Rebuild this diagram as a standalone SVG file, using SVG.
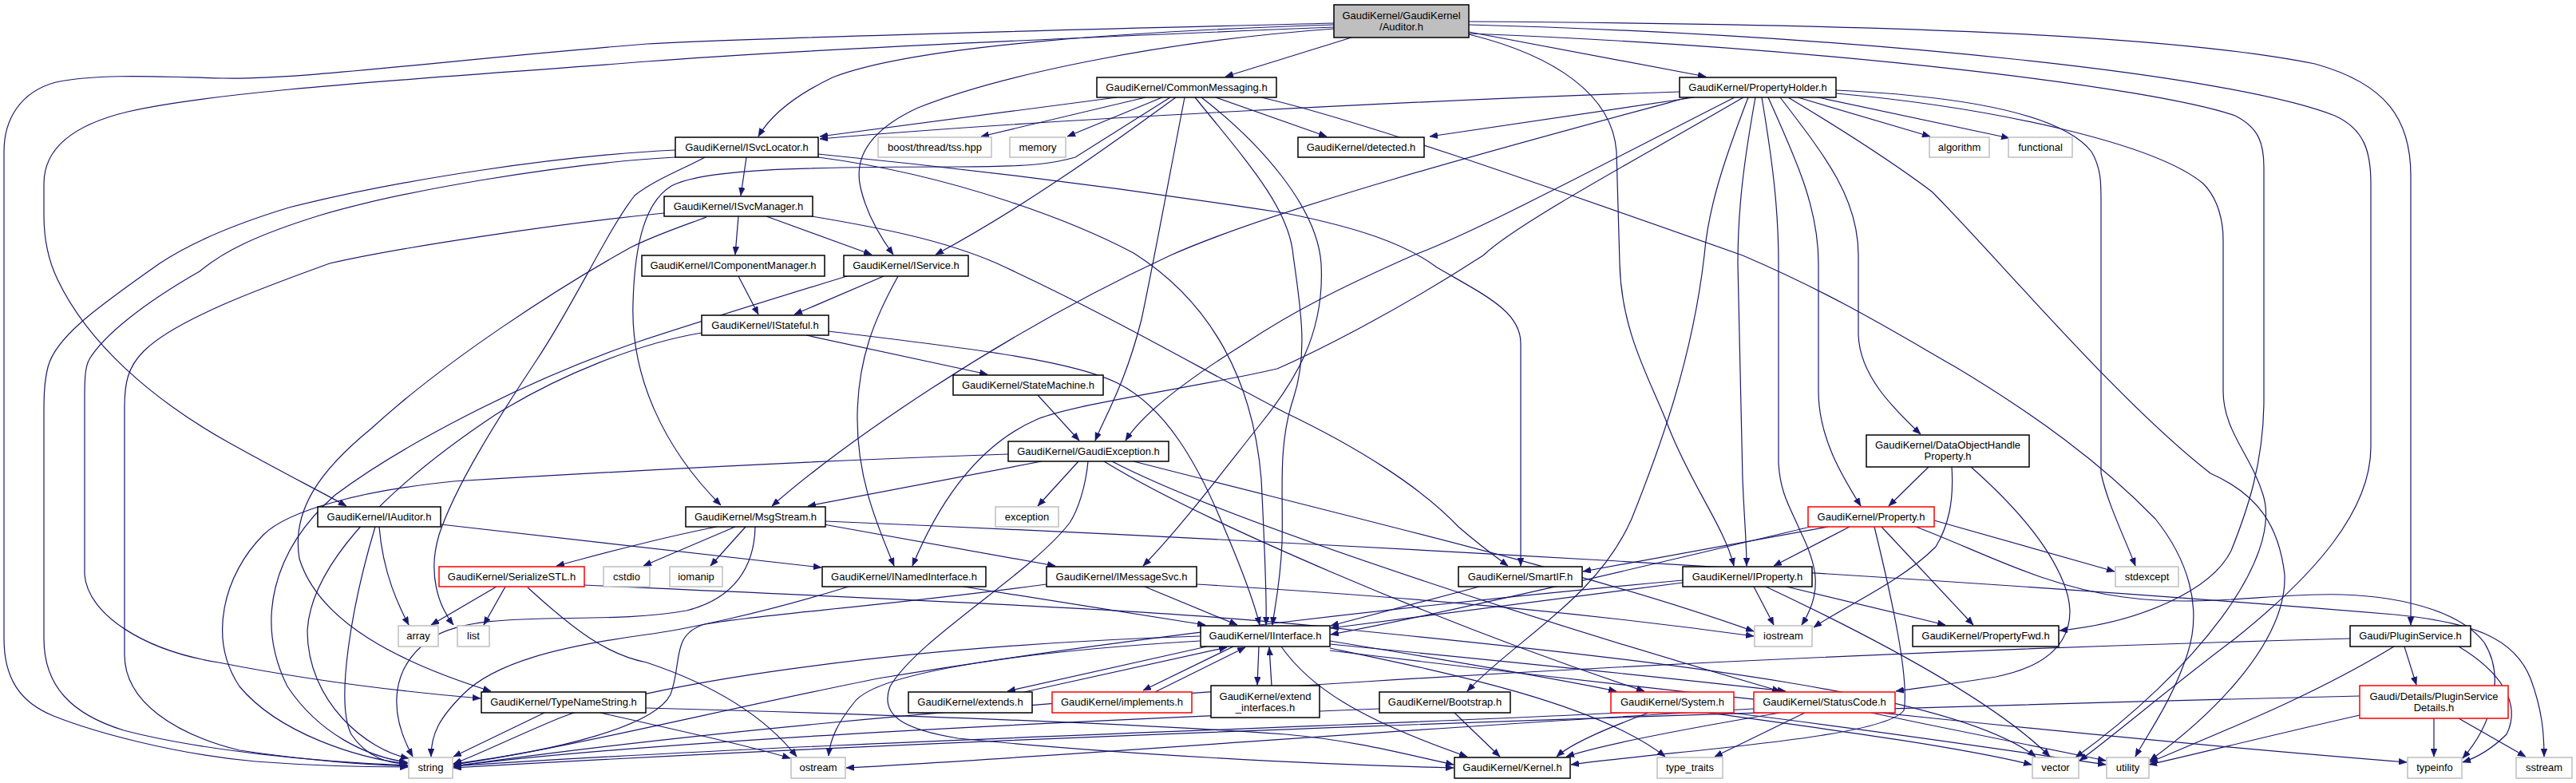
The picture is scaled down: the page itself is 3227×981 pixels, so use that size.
<svg xmlns="http://www.w3.org/2000/svg" width="3227" height="981" viewBox="0 0 3227 981">
<style>
.e{fill:none;stroke:#191970;stroke-width:1.2;marker-end:url(#a)}
rect{fill:#fff;stroke-width:1.5}
.n rect{stroke:#000}
.s rect{stroke:#bfbfbf}
.r rect{stroke:#ff0000}
text{font-family:"Liberation Sans",Arial,Helvetica,sans-serif;font-size:13px;text-anchor:middle;fill:#000}
</style>
<defs>
<marker id="a" markerWidth="10" markerHeight="8" refX="10" refY="4" orient="auto" markerUnits="userSpaceOnUse"><path d="M0,0 L10,4 L0,8 z" fill="#191970" stroke="#191970" stroke-width="0.5"/></marker>
</defs>
<rect x="0" y="0" width="3227" height="981" style="fill:#fff;stroke:none"/>
<g id="edges">
<path class="e" d="M1671,29 C1400,36 1000,45 810,55 C560,75 380,100 279,98 C200,96 120,92 70,103 C25,115 5,150 5,190 L5,800 C5,850 25,880 67,897 C120,918 220,945 320,954 C400,960 470,961 511,961"/>
<path class="e" d="M1671,34 C1400,45 1000,62 810,77 C560,97 280,112 160,140 C85,158 55,190 55,230 L55,270 C55,300 60,325 72,350 C110,430 190,500 284,553 C350,590 400,615 434,634"/>
<path class="e" d="M1671,31 C1450,38 1150,55 1043,97 C995,120 965,145 950,171"/>
<path class="e" d="M1671,36 C1450,52 1250,95 1150,135 C1085,165 1070,200 1078,235 C1086,270 1105,300 1119,319"/>
<path class="e" d="M1693,47 L1535,96"/>
<path class="e" d="M1840,40 L2137,96"/>
<path class="e" d="M1840,43 C1950,70 2020,120 2025,190 L2029,330 C2031,420 2070,480 2091,537 C2120,610 2160,660 2172,709"/>
<path class="e" d="M1840,27 C2300,30 2700,40 2900,80 C2990,105 3020,150 3020,220 L3020,783"/>
<path class="e" d="M1840,31 C2350,45 2800,95 2925,145 C2962,162 2970,190 2970,230 L2970,560 C2970,640 2900,720 2800,800 C2720,860 2650,920 2605,953"/>
<path class="e" d="M1840,42 C2300,60 2700,110 2800,145 C2830,160 2836,180 2836,210 L2836,500 C2836,580 2815,640 2795,690 C2770,740 2680,780 2580,790"/>
<path class="e" d="M1399,122 L1027,171"/>
<path class="e" d="M1435,122 L1229,171"/>
<path class="e" d="M1456,122 L1337,171"/>
<path class="e" d="M1466,122 L1347,197 C1320,205 1290,209 1200,209 C1000,209 880,212 841,233 C810,252 795,300 793,380 C790,470 830,560 903,633"/>
<path class="e" d="M1473,122 C1420,160 1300,250 1172,319"/>
<path class="e" d="M1484,122 C1465,220 1445,330 1430,400 C1410,480 1385,520 1372,552"/>
<path class="e" d="M1497,122 C1560,200 1615,260 1620,320 C1628,380 1640,440 1620,500 C1600,560 1608,620 1606,680 C1604,730 1597,760 1594,783"/>
<path class="e" d="M1505,122 C1580,180 1650,260 1655,330 C1660,420 1620,480 1580,530 C1540,580 1480,660 1432,709"/>
<path class="e" d="M1523,122 L1662,171"/>
<path class="e" d="M1580,122 C1700,150 1900,220 2183,320 C2300,370 2380,420 2450,460 C2550,520 2632,580 2700,650 C2740,700 2760,760 2740,820 C2720,880 2690,920 2675,948"/>
<path class="e" d="M2104,115 C1800,125 1300,150 1027,174"/>
<path class="e" d="M2122,122 L1791,171"/>
<path class="e" d="M2115,122 C1900,180 1600,260 1466,320 C1250,420 1050,560 967,634"/>
<path class="e" d="M2173,122 C2000,210 1850,290 1770,320 C1680,360 1620,390 1560,430 C1480,480 1430,520 1410,552"/>
<path class="e" d="M2184,122 C2050,200 1900,280 1858,320 C1750,390 1650,440 1600,462 C1500,485 1350,505 1300,525 C1230,555 1180,620 1143,709"/>
<path class="e" d="M2190,122 C2160,200 2140,260 2135,320 C2120,450 2080,560 2044,650 C2000,750 1900,800 1838,866"/>
<path class="e" d="M2199,122 C2185,200 2177,260 2177,330 L2183,600 C2185,650 2188,680 2188,709"/>
<path class="e" d="M2207,122 C2220,200 2228,260 2228,330 L2228,580 C2230,620 2245,640 2255,665 C2275,705 2285,740 2257,783"/>
<path class="e" d="M2215,122 C2250,200 2278,260 2278,330 L2278,490 C2278,550 2310,600 2331,634"/>
<path class="e" d="M2230,122 C2290,200 2328,250 2328,320 L2328,420 C2330,470 2370,510 2406,544"/>
<path class="e" d="M2240,122 C2320,170 2380,210 2420,240 C2500,320 2650,500 2769,593 C2830,620 2855,660 2862,720 C2865,800 2780,890 2693,953"/>
<path class="e" d="M2252,122 L2418,171"/>
<path class="e" d="M2268,120 L2517,173"/>
<path class="e" d="M2300,113 C2450,120 2580,140 2620,190 C2632,210 2632,230 2632,250 L2632,593 C2640,630 2660,670 2675,709"/>
<path class="e" d="M2300,117 C2500,135 2700,180 2760,230 C2780,250 2785,280 2785,300 L2785,490 C2785,540 2820,570 2835,620 C2860,700 2750,840 2600,949"/>
<path class="e" d="M935,197 L928,245"/>
<path class="e" d="M1025,193 C1300,220 1500,250 1610,267 C1700,285 1760,305 1800,335 C1860,370 1905,390 1905,430 L1905,709"/>
<path class="e" d="M1025,197 C1200,220 1350,280 1420,317 C1520,380 1570,480 1580,600 C1585,700 1587,750 1586,783"/>
<path class="e" d="M883,197 C860,210 820,225 795,245 C760,290 720,380 671,453 C620,530 570,610 550,670 C535,720 550,760 568,783"/>
<path class="e" d="M846,188 C700,195 500,225 362,260 C280,285 230,310 200,330 C130,380 70,420 60,460 C55,480 55,500 55,520 L55,800 C55,860 90,895 155,915 C250,940 400,955 511,959"/>
<path class="e" d="M846,197 C700,205 500,240 400,270 C320,295 280,315 250,340 C180,380 130,420 112,450 C106,460 106,480 106,500 L106,720 C110,770 180,815 274,830 C400,855 520,868 602,875"/>
<path class="e" d="M832,267 C700,280 500,310 413,330 C330,360 220,400 180,440 C160,460 156,480 156,510 L156,820 C156,880 220,920 300,940 C400,955 470,958 511,960"/>
<path class="e" d="M885,272 C850,285 820,295 790,310 C700,360 560,450 465,537 C400,590 365,640 375,700 C400,780 500,830 615,866"/>
<path class="e" d="M925,271 L921,319"/>
<path class="e" d="M960,271 L1092,319"/>
<path class="e" d="M1017,271 C1100,285 1180,300 1249,330 C1400,400 1500,460 1610,517 C1700,560 1780,610 1827,660 C1850,680 1870,695 1889,709"/>
<path class="e" d="M925,346 L950,394"/>
<path class="e" d="M1107,346 L995,394"/>
<path class="e" d="M1125,346 C1095,400 1075,450 1074,520 C1073,600 1100,660 1120,709"/>
<path class="e" d="M1061,346 C950,380 870,405 800,428 C650,480 500,560 420,620 C340,690 320,780 360,860 C400,920 460,948 510,955"/>
<path class="e" d="M1010,420 L1237,469"/>
<path class="e" d="M879,417 C800,430 700,470 620,520 C500,600 390,700 385,790 C385,880 460,940 512,950"/>
<path class="e" d="M1038,415 C1200,435 1340,450 1400,480 C1460,510 1500,580 1533,660 C1550,700 1570,750 1578,783"/>
<path class="e" d="M1300,495 L1352,552"/>
<path class="e" d="M1305,578 L1012,634"/>
<path class="e" d="M1351,578 L1300,634"/>
<path class="e" d="M1263,569 C1000,578 700,595 568,603 C450,615 360,640 330,670 C280,720 260,800 300,860 C350,920 450,950 510,957"/>
<path class="e" d="M1363,578 C1360,610 1350,640 1340,655 C1290,720 1150,800 1115,860 C1100,900 1140,915 1200,925 C1400,945 1650,958 1821,962"/>
<path class="e" d="M1383,578 C1500,650 1800,780 2060,866"/>
<path class="e" d="M1393,578 C1550,660 2000,800 2230,866"/>
<path class="e" d="M1420,578 C1700,650 2000,720 2197,791"/>
<path class="e" d="M898,660 C820,675 750,695 697,709"/>
<path class="e" d="M921,660 L806,709"/>
<path class="e" d="M934,660 L890,709"/>
<path class="e" d="M946,660 C945,710 920,750 860,765 C750,785 600,760 540,800 C490,835 485,890 517,948"/>
<path class="e" d="M1032,657 L1322,709"/>
<path class="e" d="M1034,653 C1600,677 2400,720 3000,770 C3100,780 3150,800 3170,850 C3185,890 3187,920 3187,948"/>
<path class="e" d="M470,660 C440,760 420,880 440,920 C460,950 490,958 511,956"/>
<path class="e" d="M475,660 C480,720 500,760 512,783"/>
<path class="e" d="M552,657 C700,675 900,695 1029,711"/>
<path class="e" d="M622,735 L540,783"/>
<path class="e" d="M633,735 L606,783"/>
<path class="e" d="M661,736 C720,790 760,820 810,830 C900,860 960,900 998,948"/>
<path class="e" d="M732,733 C1100,750 1500,765 1700,790 C2100,830 2450,870 2550,948"/>
<path class="e" d="M682,893 L568,948"/>
<path class="e" d="M752,893 C850,915 940,935 990,950"/>
<path class="e" d="M809,887 C1100,895 1400,905 1610,920 C1700,928 1760,945 1821,958"/>
<path class="e" d="M1207,735 L1510,783"/>
<path class="e" d="M1063,735 C950,770 850,790 810,795 C700,810 620,830 580,870 C550,900 540,920 540,948"/>
<path class="e" d="M1434,735 L1550,783"/>
<path class="e" d="M1311,732 C1100,760 950,770 883,782 C840,795 855,830 840,870 C820,910 700,940 568,957"/>
<path class="e" d="M1499,732 C1800,750 2000,770 2197,797"/>
<path class="e" d="M1853,735 L1667,784"/>
<path class="e" d="M2108,730 L1667,787"/>
<path class="e" d="M2197,735 L2222,783"/>
<path class="e" d="M2238,735 L2437,783"/>
<path class="e" d="M2108,727 C1800,755 1400,800 1100,850 C900,890 700,940 568,958"/>
<path class="e" d="M2212,735 C2350,800 2500,880 2568,948"/>
<path class="e" d="M2290,660 L1983,716"/>
<path class="e" d="M2317,660 L2222,709"/>
<path class="e" d="M2357,660 L2472,783"/>
<path class="e" d="M2348,660 C2370,750 2392,850 2385,890 C2360,925 2100,940 1968,958"/>
<path class="e" d="M2423,652 L2649,716"/>
<path class="e" d="M2268,660 C2100,700 1850,760 1667,795"/>
<path class="e" d="M2400,660 C2480,690 2560,735 2660,748 C2760,762 2850,742 2935,745 C3020,748 3085,770 3112,805 C3140,850 3120,910 3085,950"/>
<path class="e" d="M2416,585 L2366,634"/>
<path class="e" d="M2445,585 C2448,630 2440,660 2425,685 C2380,730 2310,760 2272,786"/>
<path class="e" d="M2469,585 C2520,630 2565,680 2585,730 C2605,780 2590,830 2500,848 C2440,858 2400,862 2375,866"/>
<path class="e" d="M1512,810 L1262,866"/>
<path class="e" d="M1283,867 L1537,811"/>
<path class="e" d="M1545,810 L1432,865"/>
<path class="e" d="M1447,867 L1560,811"/>
<path class="e" d="M1577,810 L1575,858"/>
<path class="e" d="M1593,859 L1590,811"/>
<path class="e" d="M1503,803 C1300,815 1100,840 1070,880 C1050,905 1040,925 1038,947"/>
<path class="e" d="M1503,797 C1100,810 800,860 700,900 C640,925 600,945 568,957"/>
<path class="e" d="M1605,810 C1640,860 1700,900 1838,948"/>
<path class="e" d="M1666,803 C1800,825 1950,850 2025,866"/>
<path class="e" d="M1666,807 C1900,830 2100,850 2237,866"/>
<path class="e" d="M1666,812 C1800,840 2000,880 2086,948"/>
<path class="e" d="M1666,815 C2200,880 2700,930 3015,955"/>
<path class="e" d="M2065,893 C2020,910 1970,930 1950,948"/>
<path class="e" d="M2030,893 C1700,910 1000,930 568,960"/>
<path class="e" d="M2140,893 C2300,915 2450,935 2545,958"/>
<path class="e" d="M2168,893 C2350,915 2550,945 2638,958"/>
<path class="e" d="M2230,893 C2100,915 2000,935 1962,948"/>
<path class="e" d="M2261,893 L2148,948"/>
<path class="e" d="M2197,888 C1800,910 1300,950 1060,962"/>
<path class="e" d="M2344,893 C2450,915 2570,940 2638,953"/>
<path class="e" d="M1822,893 L1879,948"/>
<path class="e" d="M1728,888 C1300,905 800,930 568,960"/>
<path class="e" d="M3012,810 L3027,858"/>
<path class="e" d="M3080,810 C3130,840 3160,880 3140,920 C3120,940 3100,950 3085,955"/>
<path class="e" d="M2999,810 C2900,870 2800,910 2693,955"/>
<path class="e" d="M2944,800 C2200,820 1200,870 568,960"/>
<path class="e" d="M3049,900 L3049,948"/>
<path class="e" d="M3080,900 L3164,948"/>
<path class="e" d="M2956,896 C2850,920 2750,945 2692,958"/>
<path class="e" d="M2956,872 C2200,890 1200,925 568,962"/>
</g>
<g id="n_auditor" class="n"><rect x="1671" y="6" width="169" height="41" style="fill:#bfbfbf"/><text x="1755.5" y="24">GaudiKernel/GaudiKernel</text><text x="1755.5" y="37.5">/Auditor.h</text></g>
<g id="n_commonmessaging" class="n"><rect x="1374" y="97" width="225" height="25"/><text x="1486.5" y="114">GaudiKernel/CommonMessaging.h</text></g>
<g id="n_propertyholder" class="n"><rect x="2104" y="97" width="196" height="25"/><text x="2202" y="114">GaudiKernel/PropertyHolder.h</text></g>
<g id="n_isvclocator" class="n"><rect x="846" y="172" width="179" height="25"/><text x="935.5" y="189">GaudiKernel/ISvcLocator.h</text></g>
<g id="n_tss" class="s"><rect x="1100" y="172" width="142" height="25"/><text x="1171" y="189">boost/thread/tss.hpp</text></g>
<g id="n_memory" class="s"><rect x="1265" y="172" width="70" height="25"/><text x="1300" y="189">memory</text></g>
<g id="n_detected" class="n"><rect x="1626" y="172" width="158" height="25"/><text x="1705" y="189">GaudiKernel/detected.h</text></g>
<g id="n_algorithm" class="s"><rect x="2417" y="172" width="75" height="25"/><text x="2454.5" y="189">algorithm</text></g>
<g id="n_functional" class="s"><rect x="2516" y="172" width="80" height="25"/><text x="2556" y="189">functional</text></g>
<g id="n_isvcmanager" class="n"><rect x="832" y="246" width="186" height="25"/><text x="925" y="263">GaudiKernel/ISvcManager.h</text></g>
<g id="n_icomponentmanager" class="n"><rect x="804" y="320" width="229" height="26"/><text x="918.5" y="337">GaudiKernel/IComponentManager.h</text></g>
<g id="n_iservice" class="n"><rect x="1057" y="320" width="156" height="26"/><text x="1135" y="337">GaudiKernel/IService.h</text></g>
<g id="n_istateful" class="n"><rect x="879" y="395" width="159" height="25"/><text x="958.5" y="412">GaudiKernel/IStateful.h</text></g>
<g id="n_statemachine" class="n"><rect x="1194" y="470" width="188" height="25"/><text x="1288" y="487">GaudiKernel/StateMachine.h</text></g>
<g id="n_gaudiexception" class="n"><rect x="1263" y="553" width="201" height="25"/><text x="1363.5" y="570">GaudiKernel/GaudiException.h</text></g>
<g id="n_dohp" class="n"><rect x="2338" y="545" width="204" height="40"/><text x="2440" y="562">GaudiKernel/DataObjectHandle</text><text x="2440" y="575.5">Property.h</text></g>
<g id="n_msgstream" class="n"><rect x="859" y="635" width="175" height="25"/><text x="946.5" y="652">GaudiKernel/MsgStream.h</text></g>
<g id="n_exception" class="s"><rect x="1247" y="635" width="79" height="25"/><text x="1286.5" y="652">exception</text></g>
<g id="n_iauditor" class="n"><rect x="398" y="635" width="154" height="25"/><text x="475" y="652">GaudiKernel/IAuditor.h</text></g>
<g id="n_property" class="r"><rect x="2265" y="635" width="158" height="25"/><text x="2344" y="652">GaudiKernel/Property.h</text></g>
<g id="n_serializestl" class="r"><rect x="550" y="710" width="182" height="25"/><text x="641" y="727">GaudiKernel/SerializeSTL.h</text></g>
<g id="n_cstdio" class="s"><rect x="756" y="710" width="58" height="25"/><text x="785" y="727">cstdio</text></g>
<g id="n_iomanip" class="s"><rect x="839" y="710" width="66" height="25"/><text x="872" y="727">iomanip</text></g>
<g id="n_inamedinterface" class="n"><rect x="1030" y="710" width="205" height="25"/><text x="1132.5" y="727">GaudiKernel/INamedInterface.h</text></g>
<g id="n_imessagesvc" class="n"><rect x="1311" y="710" width="188" height="25"/><text x="1405" y="727">GaudiKernel/IMessageSvc.h</text></g>
<g id="n_smartif" class="n"><rect x="1827" y="710" width="155" height="25"/><text x="1904.5" y="727">GaudiKernel/SmartIF.h</text></g>
<g id="n_iproperty" class="n"><rect x="2108" y="710" width="162" height="25"/><text x="2189" y="727">GaudiKernel/IProperty.h</text></g>
<g id="n_stdexcept" class="s"><rect x="2650" y="710" width="79" height="25"/><text x="2689.5" y="727">stdexcept</text></g>
<g id="n_array" class="s"><rect x="499" y="784" width="50" height="26"/><text x="524" y="801">array</text></g>
<g id="n_list" class="s"><rect x="573" y="784" width="40" height="26"/><text x="593" y="801">list</text></g>
<g id="n_iinterface" class="n"><rect x="1504" y="784" width="162" height="26"/><text x="1585" y="801">GaudiKernel/IInterface.h</text></g>
<g id="n_iostream" class="s"><rect x="2198" y="784" width="72" height="26"/><text x="2234" y="801">iostream</text></g>
<g id="n_propertyfwd" class="n"><rect x="2396" y="784" width="183" height="26"/><text x="2487.5" y="801">GaudiKernel/PropertyFwd.h</text></g>
<g id="n_pluginservice" class="n"><rect x="2944" y="784" width="151" height="26"/><text x="3019.5" y="801">Gaudi/PluginService.h</text></g>
<g id="n_typenamestring" class="n"><rect x="603" y="867" width="206" height="26"/><text x="706" y="884">GaudiKernel/TypeNameString.h</text></g>
<g id="n_extends" class="n"><rect x="1138" y="867" width="155" height="26"/><text x="1215.5" y="884">GaudiKernel/extends.h</text></g>
<g id="n_implements" class="r"><rect x="1318" y="867" width="175" height="26"/><text x="1405.5" y="884">GaudiKernel/implements.h</text></g>
<g id="n_extend_interfaces" class="n"><rect x="1517" y="859" width="136" height="40"/><text x="1585" y="877">GaudiKernel/extend</text><text x="1585" y="890.5">_interfaces.h</text></g>
<g id="n_bootstrap" class="n"><rect x="1728" y="867" width="164" height="26"/><text x="1810" y="884">GaudiKernel/Bootstrap.h</text></g>
<g id="n_system" class="r"><rect x="2018" y="867" width="154" height="26"/><text x="2095" y="884">GaudiKernel/System.h</text></g>
<g id="n_statuscode" class="r"><rect x="2197" y="867" width="177" height="26"/><text x="2285.5" y="884">GaudiKernel/StatusCode.h</text></g>
<g id="n_pluginservicedetails" class="r"><rect x="2956" y="859" width="186" height="41"/><text x="3049" y="877">Gaudi/Details/PluginService</text><text x="3049" y="890.5">Details.h</text></g>
<g id="n_string" class="s"><rect x="512" y="949" width="55" height="26"/><text x="539.5" y="966">string</text></g>
<g id="n_ostream" class="s"><rect x="991" y="949" width="68" height="26"/><text x="1025" y="966">ostream</text></g>
<g id="n_kernel" class="n"><rect x="1822" y="949" width="145" height="26"/><text x="1894.5" y="966">GaudiKernel/Kernel.h</text></g>
<g id="n_type_traits" class="s"><rect x="2076" y="949" width="82" height="26"/><text x="2117" y="966">type_traits</text></g>
<g id="n_vector" class="s"><rect x="2546" y="949" width="58" height="26"/><text x="2575" y="966">vector</text></g>
<g id="n_utility" class="s"><rect x="2639" y="949" width="53" height="26"/><text x="2665.5" y="966">utility</text></g>
<g id="n_typeinfo" class="s"><rect x="3016" y="949" width="68" height="26"/><text x="3050" y="966">typeinfo</text></g>
<g id="n_sstream" class="s"><rect x="3152" y="949" width="70" height="26"/><text x="3187" y="966">sstream</text></g>
</svg>
